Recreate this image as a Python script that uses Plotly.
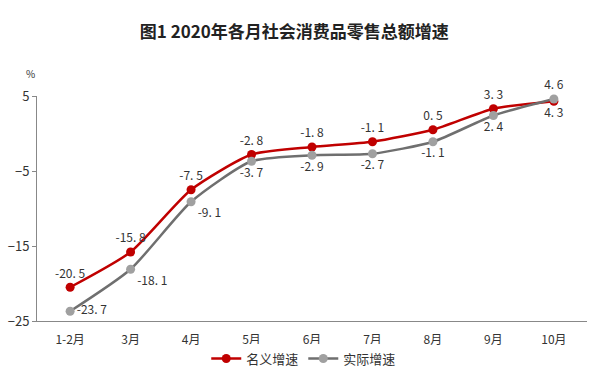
import plotly.graph_objects as go

months = ["1-2月", "3月", "4月", "5月", "6月", "7月", "8月", "9月", "10月"]
nominal = [-20.5, -15.8, -7.5, -2.8, -1.8, -1.1, 0.5, 3.3, 4.3]
real = [-23.7, -18.1, -9.1, -3.7, -2.9, -2.7, -1.1, 2.4, 4.6]
y_ticks = [5, -5, -15, -25]

nom_pos = ["top center"] * 8 + ["bottom center"]
real_pos = ["middle right", "bottom right", "bottom right", "bottom center", "bottom center",
            "bottom center", "bottom center", "bottom center", "top center"]

font_fam = "Noto Sans CJK SC, sans-serif"
red = "#C00000"
gray_line = "#6F6F6F"
gray_mk = "#A0A0A0"

fig = go.Figure()
fig.add_trace(go.Scatter(
    x=months, y=nominal, name="名义增速", mode="lines+markers+text",
    line=dict(color=red, width=2.5, shape="spline", smoothing=0.6),
    marker=dict(color=red, size=9), cliponaxis=False,
    text=[f"{v:.1f}".replace(".", ". ") for v in nominal], textposition=nom_pos,
    textfont=dict(size=12, color="#333333", family=font_fam),
))
fig.add_trace(go.Scatter(
    x=months, y=real, name="实际增速", mode="lines+markers+text",
    line=dict(color=gray_line, width=2.5, shape="spline", smoothing=0.6),
    marker=dict(color=gray_mk, size=9), cliponaxis=False,
    text=[f"{v:.1f}".replace(".", ". ") for v in real], textposition=real_pos,
    textfont=dict(size=12, color="#333333", family=font_fam),
))

fig.update_layout(
    width=608, height=383,
    margin=dict(l=37, r=21, t=96, b=62, autoexpand=False),
    paper_bgcolor="white", plot_bgcolor="white",
    font=dict(family=font_fam, size=12, color="#333333"),
    title=dict(text="<b>图1 2020年各月社会消费品零售总额增速</b>", x=0.484, xanchor="center",
               y=0.916, yanchor="middle", font=dict(size=17, color="#222222")),
    showlegend=True,
    legend=dict(orientation="h", x=0.485, xanchor="center", y=-0.1, yanchor="top",
                font=dict(size=13, color="#333333")),
    xaxis=dict(type="category", showgrid=False, showline=True, linecolor="#888888",
               linewidth=1, ticks="", ticklabelstandoff=8,
               tickfont=dict(size=12, color="#333333")),
    yaxis=dict(range=[-25, 5], tickvals=y_ticks, showgrid=False, showline=True,
               linecolor="#888888", linewidth=1, ticks="outside", ticklen=4,
               tickcolor="#888888", zeroline=False, tickfont=dict(size=13, color="#333333")),
    annotations=[dict(text="%", xref="paper", yref="paper", x=-0.012, y=1.10,
                      showarrow=False, xanchor="center", yanchor="middle",
                      font=dict(size=10, color="#333333"))],
)

fig.write_html("out.html", config={"displayModeBar": False},
               post_script="document.body.style.margin='0';")
